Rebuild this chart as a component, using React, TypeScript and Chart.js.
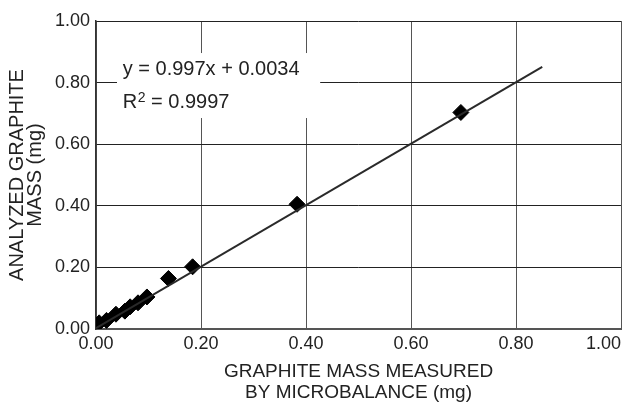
import React, { useEffect, useRef } from "react";
import { Chart, registerables } from "chart.js";

Chart.register(...registerables);

// Measured data (mg)
const measuredX = [0.006, 0.020, 0.038, 0.055, 0.065, 0.080, 0.097, 0.138, 0.184, 0.383, 0.695];
const analyzedY = [0.020, 0.028, 0.048, 0.058, 0.072, 0.085, 0.104, 0.164, 0.202, 0.405, 0.703];

// Trend line end points
const trendX = [0, 0.85];
const trendY = [0.003, 0.851];

const axisTicks = [0, 0.2, 0.4, 0.6, 0.8, 1.0];
const equationText = "y = 0.997x + 0.0034";
const r2Base = "R";
const r2Sup = "2";
const r2Rest = " = 0.9997";
const xTitle = ["GRAPHITE MASS MEASURED", "BY MICROBALANCE (mg)"];
const yTitle = ["ANALYZED GRAPHITE", "MASS (mg)"];

const FONT = "'Liberation Sans', Arial, Helvetica, sans-serif";

const equationPlugin = {
  id: "equationBox",
  beforeDatasetsDraw(chart: any) {
    const { ctx, scales } = chart;
    const xs = scales.x;
    const ys = scales.y;
    const x0 = xs.getPixelForValue(0.04);
    const x1 = xs.getPixelForValue(0.427);
    const y0 = ys.getPixelForValue(0.896);
    const y1 = ys.getPixelForValue(0.685);
    ctx.save();
    ctx.fillStyle = "#ffffff";
    ctx.fillRect(x0, y0, x1 - x0, y1 - y0);
    ctx.fillStyle = "#222";
    ctx.font = `20px ${FONT}`;
    ctx.textBaseline = "middle";
    ctx.textAlign = "left";
    const tx = xs.getPixelForValue(0.051);
    ctx.fillText(equationText, tx, ys.getPixelForValue(0.841));
    const ry = ys.getPixelForValue(0.737);
    ctx.fillText(r2Base, tx, ry);
    let cx = tx + ctx.measureText(r2Base).width + 0.5;
    ctx.font = `14px ${FONT}`;
    ctx.fillText(r2Sup, cx, ry - 4);
    cx += ctx.measureText(r2Sup).width;
    ctx.font = `20px ${FONT}`;
    ctx.fillText(r2Rest, cx, ry);
    ctx.restore();
  },
};

export default function App() {
  const ref = useRef<HTMLCanvasElement | null>(null);
  useEffect(() => {
    if (!ref.current) return;
    const chart = new Chart(ref.current, {
      type: "scatter",
      data: {
        datasets: [
          {
            type: "line",
            data: trendX.map((x, i) => ({ x, y: trendY[i] })),
            borderColor: "#2a2a2a",
            borderWidth: 2,
            pointRadius: 0,
            fill: false,
            order: 0,
          } as any,
          {
            data: measuredX.map((x, i) => ({ x, y: analyzedY[i] })),
            pointStyle: "rectRot",
            pointRadius: 8,
            backgroundColor: "#000",
            borderColor: "#000",
            borderWidth: 1,
            order: 1,
          },
        ],
      },
      options: {
        animation: false,
        responsive: true,
        maintainAspectRatio: false,
        layout: { autoPadding: false, padding: { left: 0, right: 2, top: 21, bottom: 0 } },
        plugins: { legend: { display: false }, tooltip: { enabled: false } },
        scales: {
          x: {
            type: "linear",
            min: 0,
            max: 1,
            afterBuildTicks: (s: any) => {
              s.ticks = axisTicks.map((v) => ({ value: v }));
            },
            afterFit: (s: any) => {
              s.height = 74;
              s.paddingLeft = 0;
              s.paddingRight = 0;
            },
            ticks: {
              color: "#222",
              font: { family: FONT, size: 18 },
              padding: 4,
              maxRotation: 0,
              callback: (v: any) => {
                const t = Number(v).toFixed(2);
                return Number(v) >= 1 ? t + "       " : t;
              },
            },
            grid: { color: "#555", lineWidth: 1, drawTicks: false },
            border: { color: "#555", width: 2 },
            title: {
              display: true,
              text: xTitle,
              color: "#222",
              font: { family: FONT, size: 19, lineHeight: 1.1 },
              padding: { top: 0, bottom: 0 },
            },
          },
          y: {
            type: "linear",
            min: 0,
            max: 1,
            afterBuildTicks: (s: any) => {
              s.ticks = axisTicks.map((v) => ({ value: v }));
            },
            afterFit: (s: any) => {
              s.width = 96;
              s.paddingTop = 0;
              s.paddingBottom = 0;
            },
            ticks: {
              color: "#222",
              font: { family: FONT, size: 18 },
              padding: 6,
              callback: (v: any) => Number(v).toFixed(2),
            },
            grid: { color: "#222", lineWidth: 1, drawTicks: false },
            border: { color: "#333", width: 1.5 },
            title: {
              display: true,
              text: yTitle,
              color: "#222",
              font: { family: FONT, size: 20, lineHeight: 0.9 },
              padding: { top: 8.5, bottom: 0 },
            },
          },
        },
      },
      plugins: [equationPlugin],
    });
    return () => chart.destroy();
  }, []);
  return (
    <div style={{ position: "fixed", left: 0, top: 0, width: 623, height: 403, background: "#fff" }}>
      <canvas ref={ref} />
    </div>
  );
}
